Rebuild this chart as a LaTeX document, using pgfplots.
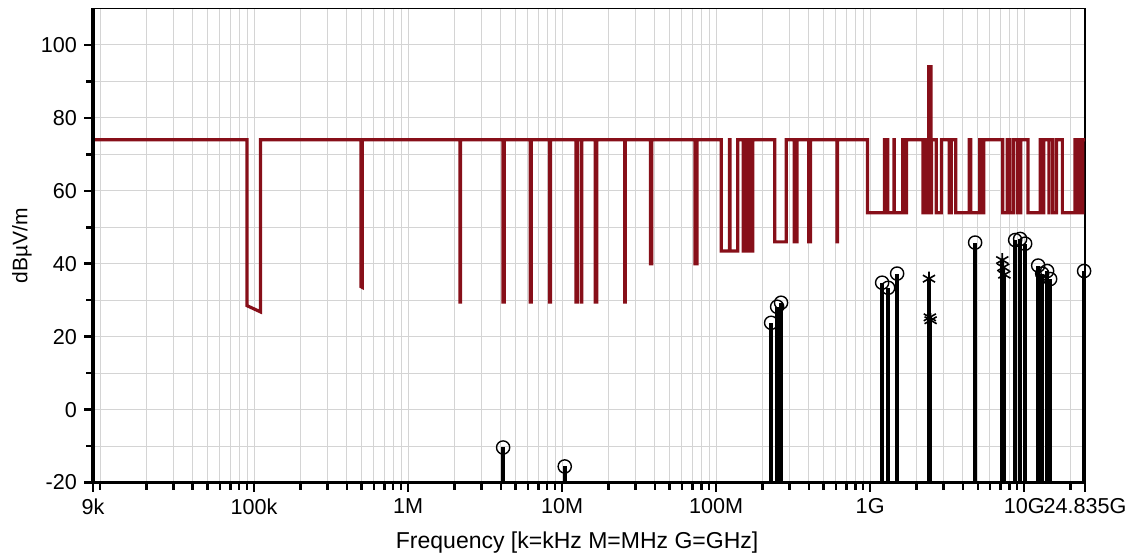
\documentclass[border=0pt]{standalone}
\usepackage{fontspec}
\setmainfont{Liberation Sans}
\usepackage{pgfplots}
\pgfplotsset{compat=1.18}
\definecolor{lim}{RGB}{135,15,25}
\definecolor{gridc}{RGB}{212,212,212}
\begin{document}
\begin{tikzpicture}
\path[use as bounding box] (-46.5pt,-37pt) rectangle (518.5pt,241.25pt);
\begin{axis}[
  at={(0,0)}, anchor=south west,
  scale only axis, width=496pt, height=237pt,
  xmode=log, xmin=9e3, xmax=24.835e9, ymin=-20, ymax=110,
  clip=false,
  xtick={9e3,1e5,1e6,1e7,1e8,1e9,1e10,24.835e9},
  xticklabels={9k,100k,1M,10M,100M,1G,10G,24.835G},
  minor xtick={1e4,2e4,3e4,4e4,5e4,6e4,7e4,8e4,9e4,
    2e5,3e5,4e5,5e5,6e5,7e5,8e5,9e5,
    2e6,3e6,4e6,5e6,6e6,7e6,8e6,9e6,
    2e7,3e7,4e7,5e7,6e7,7e7,8e7,9e7,
    2e8,3e8,4e8,5e8,6e8,7e8,8e8,9e8,
    2e9,3e9,4e9,5e9,6e9,7e9,8e9,9e9,2e10},
  ytick={-20,0,20,40,60,80,100},
  minor ytick={-10,10,30,50,70,90},
  grid=both,
  major grid style={gridc, line width=0.5pt},
  minor grid style={gridc, line width=0.5pt},
  xtick pos=bottom, ytick pos=left,
  tick align=outside,
  major tick length=4.5pt, minor tick length=3.5pt,
  tick style={black, line width=1.3pt},
  axis line style={black, line width=0.6pt},
  /pgf/number format/assume math mode=true,
  ticklabel style={font=\fontsize{10.8}{12}\selectfont},
  xticklabel style={inner xsep=0pt},
  xlabel={Frequency [k=kHz M=MHz G=GHz]},
  ylabel={dBµV/m},
  xlabel style={at={(axis description cs:0.488,-0.126)}, anchor=center, font=\fontsize{11.5}{13}\selectfont},
  ylabel style={at={(axis description cs:-0.0716,0.5)}, anchor=center, font=\fontsize{10.5}{12}\selectfont},
]
% limit line
\addplot[lim, line width=1.6pt, line join=miter] coordinates {
(9e3,74) (90e3,74) (90e3,28.5) (110e3,26.8) (110e3,74)
(495e3,74) (495e3,33.7) (505e3,33.5) (505e3,74)
(2.1735e6,74) (2.1735e6,29.5) (2.1905e6,29.5) (2.1905e6,74)
(4.125e6,74) (4.125e6,29.5) (4.128e6,29.5) (4.128e6,74)
(4.17725e6,74) (4.17725e6,29.5) (4.17775e6,29.5) (4.17775e6,74)
(4.20725e6,74) (4.20725e6,29.5) (4.20775e6,29.5) (4.20775e6,74)
(6.215e6,74) (6.215e6,29.5) (6.218e6,29.5) (6.218e6,74)
(6.26775e6,74) (6.26775e6,29.5) (6.26825e6,29.5) (6.26825e6,74)
(6.31175e6,74) (6.31175e6,29.5) (6.31225e6,29.5) (6.31225e6,74)
(8.291e6,74) (8.291e6,29.5) (8.294e6,29.5) (8.294e6,74)
(8.362e6,74) (8.362e6,29.5) (8.366e6,29.5) (8.366e6,74)
(8.37625e6,74) (8.37625e6,29.5) (8.38675e6,29.5) (8.38675e6,74)
(8.41425e6,74) (8.41425e6,29.5) (8.41475e6,29.5) (8.41475e6,74)
(12.29e6,74) (12.29e6,29.5) (12.293e6,29.5) (12.293e6,74)
(12.51975e6,74) (12.51975e6,29.5) (12.52025e6,29.5) (12.52025e6,74)
(12.57675e6,74) (12.57675e6,29.5) (12.57725e6,29.5) (12.57725e6,74)
(13.36e6,74) (13.36e6,29.5) (13.41e6,29.5) (13.41e6,74)
(16.42e6,74) (16.42e6,29.5) (16.423e6,29.5) (16.423e6,74)
(16.69475e6,74) (16.69475e6,29.5) (16.69525e6,29.5) (16.69525e6,74)
(16.80425e6,74) (16.80425e6,29.5) (16.80475e6,29.5) (16.80475e6,74)
(25.5e6,74) (25.5e6,29.5) (25.67e6,29.5) (25.67e6,74)
(37.5e6,74) (37.5e6,40) (38.25e6,40) (38.25e6,74)
(73e6,74) (73e6,40) (74.6e6,40) (74.6e6,74)
(74.8e6,74) (74.8e6,40) (75.2e6,40) (75.2e6,74)
(108e6,74) (108e6,43.5) (121.94e6,43.5) (121.94e6,74)
(123e6,74) (123e6,43.5) (138e6,43.5) (138e6,74)
(149.9e6,74) (149.9e6,43.5) (150.05e6,43.5) (150.05e6,74)
(156.52475e6,74) (156.52475e6,43.5) (156.52525e6,43.5) (156.52525e6,74)
(156.7e6,74) (156.7e6,43.5) (156.9e6,43.5) (156.9e6,74)
(162.0125e6,74) (162.0125e6,43.5) (167.17e6,43.5) (167.17e6,74)
(167.72e6,74) (167.72e6,43.5) (173.2e6,43.5) (173.2e6,74)
(240e6,74) (240e6,46) (285e6,46) (285e6,74)
(322e6,74) (322e6,46) (335.4e6,46) (335.4e6,74)
(399.9e6,74) (399.9e6,46) (410e6,46) (410e6,74)
(608e6,74) (608e6,46) (614e6,46) (614e6,74)
(960e6,74) (960e6,54) (1240e6,54) (1240e6,74)
(1300e6,74) (1300e6,54) (1427e6,54) (1427e6,74)
(1435e6,74) (1435e6,54) (1626.5e6,54) (1626.5e6,74)
(1645.5e6,74) (1645.5e6,54) (1646.5e6,54) (1646.5e6,74)
(1660e6,74) (1660e6,54) (1710e6,54) (1710e6,74)
(1718.8e6,74) (1718.8e6,54) (1722.2e6,54) (1722.2e6,74)
(2200e6,74) (2200e6,54) (2300e6,54) (2300e6,74)
(2310e6,74) (2310e6,54) (2390e6,54) (2390e6,74)
(2400e6,74) (2400e6,94) (2483.5e6,94) (2483.5e6,54) (2500e6,54) (2500e6,74)
(2690e6,74) (2690e6,54) (2900e6,54) (2900e6,74)
(3260e6,74) (3260e6,54) (3267e6,54) (3267e6,74)
(3332e6,74) (3332e6,54) (3339e6,54) (3339e6,74)
(3345.8e6,74) (3345.8e6,54) (3358e6,54) (3358e6,74)
(3600e6,74) (3600e6,54) (4400e6,54) (4400e6,74)
(4500e6,74) (4500e6,54) (5150e6,54) (5150e6,74)
(5350e6,74) (5350e6,54) (5460e6,54) (5460e6,74)
(7250e6,74) (7250e6,54) (7750e6,54) (7750e6,74)
(8025e6,74) (8025e6,54) (8500e6,54) (8500e6,74)
(9000e6,74) (9000e6,54) (9200e6,54) (9200e6,74)
(9300e6,74) (9300e6,54) (9500e6,54) (9500e6,74)
(10600e6,74) (10600e6,54) (12700e6,54) (12700e6,74)
(13250e6,74) (13250e6,54) (13400e6,54) (13400e6,74)
(14470e6,74) (14470e6,54) (14500e6,54) (14500e6,74)
(15350e6,74) (15350e6,54) (16200e6,54) (16200e6,74)
(17700e6,74) (17700e6,54) (21400e6,54) (21400e6,74)
(22010e6,74) (22010e6,54) (23120e6,54) (23120e6,74)
(23600e6,74) (23600e6,54) (24000e6,54) (24000e6,74)
(24.835e9,74)
};
% stems
\addplot[black, line width=1.8pt, unbounded coords=jump] coordinates {
(4.14e6,-20) (4.14e6,-10.4) (4.14e6,nan)
(10.4e6,-20) (10.4e6,-15.6) (10.4e6,nan)
(227.6e6,-20) (227.6e6,23.8) (227.6e6,nan)
(249e6,-20) (249e6,28.2) (249e6,nan)
(264e6,-20) (264e6,29.3) (264e6,nan)
(1.196e9,-20) (1.196e9,34.8) (1.196e9,nan)
(1.309e9,-20) (1.309e9,33.4) (1.309e9,nan)
(1.497e9,-20) (1.497e9,37.3) (1.497e9,nan)
(2.41e9,-20) (2.41e9,35.9) (2.41e9,nan)
(2.44e9,-20) (2.44e9,25.3) (2.44e9,nan)
(2.47e9,-20) (2.47e9,24.5) (2.47e9,nan)
(4.804e9,-20) (4.804e9,45.8) (4.804e9,nan)
(7.21e9,-20) (7.21e9,41.0) (7.21e9,nan)
(7.32e9,-20) (7.32e9,39.0) (7.32e9,nan)
(7.44e9,-20) (7.44e9,37.0) (7.44e9,nan)
(8.74e9,-20) (8.74e9,46.5) (8.74e9,nan)
(9.42e9,-20) (9.42e9,46.8) (9.42e9,nan)
(10.15e9,-20) (10.15e9,45.5) (10.15e9,nan)
(12.33e9,-20) (12.33e9,39.5) (12.33e9,nan)
(13.09e9,-20) (13.09e9,37.3) (13.09e9,nan)
(14.1e9,-20) (14.1e9,38.0) (14.1e9,nan)
(14.75e9,-20) (14.75e9,35.8) (14.75e9,nan)
(24.5e9,-20) (24.5e9,38.0)
};
% circle markers
\addplot[only marks, mark=o, mark size=3.3pt, mark options={black, line width=0.7pt}] coordinates {
(4.14e6,-10.4) (10.4e6,-15.6) (227.6e6,23.8) (249e6,28.2) (264e6,29.3)
(1.196e9,34.8) (1.309e9,33.4) (1.497e9,37.3) (4.804e9,45.8)
(8.74e9,46.5) (9.42e9,46.8) (10.15e9,45.5)
(12.33e9,39.5) (13.09e9,37.3) (14.1e9,38.0) (14.75e9,35.8) (24.5e9,38.0)
};
% star markers
\addplot[only marks, mark=asterisk, mark size=3.5pt, mark options={black, line width=0.8pt}] coordinates {
(2.41e9,35.9) (2.44e9,25.3) (2.47e9,24.5)
(7.21e9,41.0) (7.32e9,39.0) (7.44e9,37.0)
};
\draw[black, line width=1.6pt] (rel axis cs:0,1) -- (rel axis cs:0,0) -- (rel axis cs:1,0);
\end{axis}
\end{tikzpicture}
\end{document}
